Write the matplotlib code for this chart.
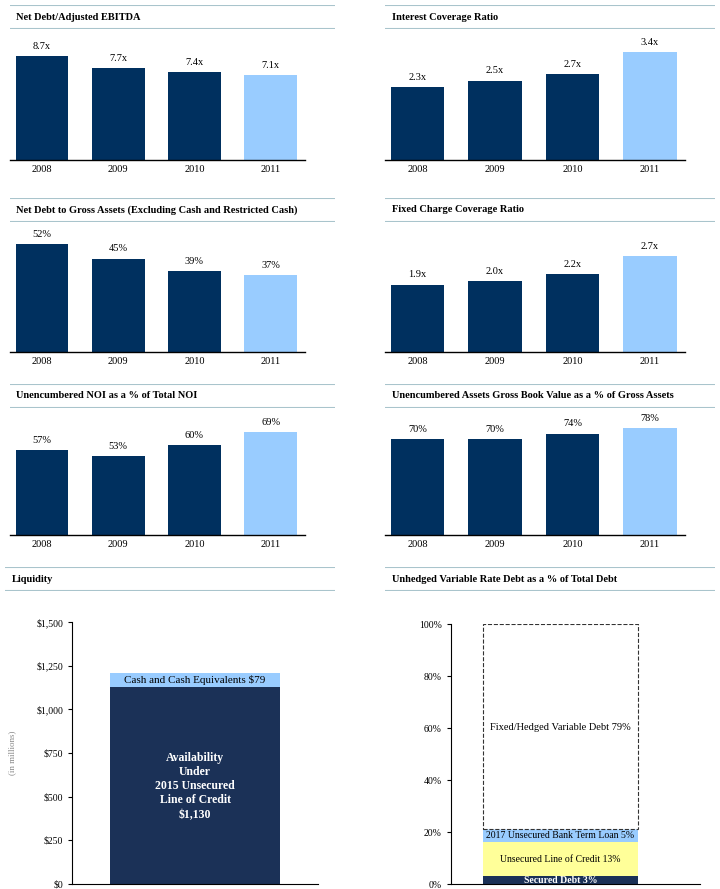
import matplotlib
matplotlib.use("Agg")
import matplotlib.pyplot as plt

plt.rcParams['font.family'] = ['Liberation Serif', 'DejaVu Serif']

years = ['2008', '2009', '2010', '2011']
net_debt_ebitda = [8.7, 7.7, 7.4, 7.1]
interest_cov = [2.3, 2.5, 2.7, 3.4]
net_debt_gross = [52, 45, 39, 37]
fixed_charge = [1.9, 2.0, 2.2, 2.7]
unenc_noi = [57, 53, 60, 69]
unenc_assets = [70, 70, 74, 78]

liq_labels = ['Availability\nUnder\n2015 Unsecured\nLine of Credit\n$1,130', 'Cash and Cash Equivalents $79']
liq_values = [1130, 79]
debt_labels = ['Secured Debt 3%', 'Unsecured Line of Credit 13%', '2017 Unsecured Bank Term Loan 5%', 'Fixed/Hedged Variable Debt 79%']
debt_values = [3, 13, 5, 79]

DARK = '#00305f'
LIGHT = '#99ccff'
LINE = '#a9c4cc'
W, H = 720, 889
fig = plt.figure(figsize=(7.2, 8.89), dpi=100)


def px_axes(x0, y0, x1, y1):
    return fig.add_axes([x0 / W, 1 - y1 / H, (x1 - x0) / W, (y1 - y0) / H])


def header(x0, x1, ytop, ybot, title):
    ax = px_axes(x0, ytop, x1, ybot)
    ax.set_xlim(0, 1); ax.set_ylim(0, 1)
    ax.axis('off')
    ax.axhline(1, color=LINE, lw=1.5)
    ax.axhline(0, color=LINE, lw=1.5)
    ax.text(0.02, 0.5, title, fontsize=7.5, fontweight='bold', va='center')


def bar_panel(x0, x1, ytop, ybot, title, vals, ymax, fmt):
    header(x0, x1, ytop - 24, ytop, title)
    ax = px_axes(x0, ytop, x1 - 30, ybot)
    colors = [DARK, DARK, DARK, LIGHT]
    bars = ax.bar(range(4), vals, width=0.69, color=colors)
    for b, v in zip(bars, vals):
        ax.text(b.get_x() + b.get_width() / 2, v + ymax * 0.04, fmt(v), ha='center', va='bottom', fontsize=7.5)
    ax.set_ylim(0, ymax)
    ax.set_xlim(-0.42, 3.45)
    ax.set_xticks(range(4), years, fontsize=7.5)
    ax.tick_params(length=0)
    ax.set_yticks([])
    for s in ['top', 'right', 'left']:
        ax.spines[s].set_visible(False)
    ax.spines['bottom'].set_linewidth(1)


xfmt = lambda v: f'{v:.1f}x'
pfmt = lambda v: f'{v:.0f}%'
bar_panel(10, 335, 29, 160, 'Net Debt/Adjusted EBITDA', net_debt_ebitda, 11.0, xfmt)
bar_panel(385, 715, 29, 160, 'Interest Coverage Ratio', interest_cov, 4.12, xfmt)
bar_panel(10, 335, 222, 352, 'Net Debt to Gross Assets (Excluding Cash and Restricted Cash)', net_debt_gross, 62.6, pfmt)
bar_panel(385, 715, 222, 352, 'Fixed Charge Coverage Ratio', fixed_charge, 3.66, xfmt)
bar_panel(10, 335, 408, 535, 'Unencumbered NOI as a % of Total NOI', unenc_noi, 85, pfmt)
bar_panel(385, 715, 408, 535, 'Unencumbered Assets Gross Book Value as a % of Gross Assets', unenc_assets, 92.6, pfmt)

# Liquidity
header(5, 335, 567, 591, 'Liquidity')
ax = px_axes(72, 622, 318, 884)
bottom = 0
for i, (lab, v) in enumerate(zip(liq_labels, liq_values)):
    c = '#1b3157' if i == 0 else LIGHT
    ax.bar(0, v, bottom=bottom, width=0.695, color=c)
    if i == 0:
        ax.text(0, 560, lab, ha='center', va='center', color='white', fontsize=8.5, fontweight='bold', linespacing=1.25)
    else:
        ax.text(0, bottom + v / 2, lab, ha='center', va='center', fontsize=8)
    bottom += v
ax.set_xlim(-0.5, 0.5)
ax.set_ylim(0, 1500)
ax.set_yticks([0, 250, 500, 750, 1000, 1250, 1500], ['$0', '$250', '$500', '$750', '$1,000', '$1,250', '$1,500'], fontsize=7)
ax.set_xticks([])
ax.tick_params(axis='y', length=3)
ax.spines[['top', 'right']].set_visible(False)
ax.set_ylabel('(in millions)', fontsize=6.5, color='#888888', labelpad=14)

# Unhedged variable rate debt
header(385, 715, 567, 591, 'Unhedged Variable Rate Debt as a % of Total Debt')
ax = px_axes(451, 624, 700, 884)
cols = ['#1b3157', '#ffff99', LIGHT, 'white']
bottom = 0
for i, (lab, v) in enumerate(zip(debt_labels, debt_values)):
    if i == 3:
        ax.bar(0, v, bottom=bottom, width=0.62, color='white', edgecolor='#333333', linestyle='--', lw=0.8)
        ax.text(0, 60, lab, ha='center', va='center', fontsize=7.5)
    else:
        ax.bar(0, v, bottom=bottom, width=0.62, color=cols[i])
        ax.text(0, bottom + v / 2, lab, ha='center', va='center', fontsize=7,
                color='white' if i == 0 else 'black', fontweight='bold' if i == 0 else 'normal')
    bottom += v
ax.set_xlim(-0.44, 0.56)
ax.set_ylim(0, 100)
ax.set_yticks(range(0, 101, 20), [f'{t}%' for t in range(0, 101, 20)], fontsize=7)
ax.set_xticks([])
ax.tick_params(axis='y', length=3)
ax.spines[['top', 'right']].set_visible(False)

fig.savefig('out.png', dpi=100)
